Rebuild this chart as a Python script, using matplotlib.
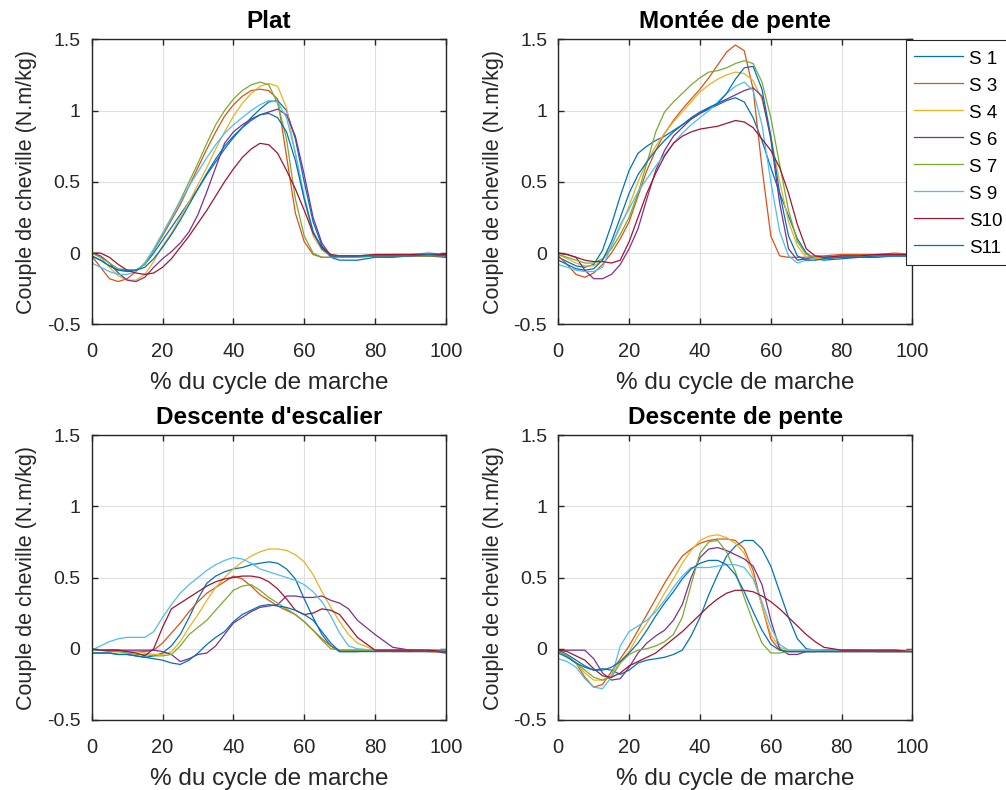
import matplotlib
matplotlib.use("Agg")
import matplotlib.pyplot as plt
from matplotlib.ticker import FuncFormatter

plt.rcParams['font.family'] = ['Liberation Sans', 'DejaVu Sans']
plt.rcParams['axes.unicode_minus'] = False

x = [0, 2.5, 5, 7.5, 10, 12.5, 15, 17.5, 20, 22.5, 25, 27.5, 30, 32.5, 35, 37.5, 40,
     42.5, 45, 47.5, 50, 52.5, 55, 57.5, 60, 62.5, 65, 67.5, 70, 72.5, 75, 80, 85, 90, 95, 100]

subjects = ["S 1", "S 3", "S 4", "S 6", "S 7", "S 9", "S10", "S11"]
colors = ["#0072BD", "#D95319", "#EDB120", "#7E2F8E", "#77AC30", "#4DBEEE", "#A2142F", "#0072BD"]
titles = ["Plat", "Montée de pente", "Descente d'escalier", "Descente de pente"]

# ---- Plat ----
plat_s1 = [-0.02, -0.05, -0.09, -0.12, -0.13, -0.12, -0.08, 0.0, 0.09, 0.18, 0.27, 0.36, 0.45, 0.55, 0.64, 0.73, 0.81, 0.88, 0.95, 1.01, 1.06, 1.07, 1.0, 0.8, 0.5, 0.22, 0.05, -0.03, -0.05, -0.05, -0.05, -0.03, -0.03, -0.02, -0.02, -0.02]
plat_s3 = [-0.02, -0.1, -0.18, -0.2, -0.18, -0.13, -0.07, 0.02, 0.12, 0.23, 0.34, 0.47, 0.6, 0.73, 0.85, 0.96, 1.04, 1.1, 1.14, 1.15, 1.14, 1.08, 0.68, 0.28, 0.08, -0.01, -0.03, -0.03, -0.03, -0.03, -0.02, -0.02, -0.01, -0.01, 0.0, -0.01]
plat_s4 = [0.0, -0.03, -0.1, -0.16, -0.19, -0.19, -0.15, -0.06, 0.05, 0.14, 0.25, 0.36, 0.48, 0.6, 0.73, 0.85, 0.96, 1.05, 1.12, 1.17, 1.19, 1.17, 1.02, 0.7, 0.38, 0.12, 0.02, -0.02, -0.03, -0.03, -0.03, -0.02, -0.02, -0.02, -0.02, -0.02]
plat_s6 = [0.0, -0.02, -0.07, -0.14, -0.19, -0.2, -0.17, -0.1, -0.04, 0.01, 0.07, 0.15, 0.27, 0.43, 0.6, 0.77, 0.85, 0.9, 0.94, 0.97, 0.99, 1.01, 0.97, 0.82, 0.55, 0.25, 0.07, -0.02, -0.03, -0.02, -0.02, -0.02, -0.02, -0.02, -0.02, -0.03]
plat_s7 = [0.0, -0.03, -0.07, -0.11, -0.12, -0.12, -0.08, 0.02, 0.13, 0.25, 0.37, 0.5, 0.63, 0.77, 0.9, 1.0, 1.08, 1.14, 1.18, 1.2, 1.18, 1.05, 0.8, 0.38, 0.12, 0.0, -0.03, -0.03, -0.03, -0.03, -0.03, -0.02, -0.02, -0.02, -0.02, -0.02]
plat_s9 = [-0.07, -0.1, -0.13, -0.15, -0.15, -0.13, -0.07, 0.03, 0.14, 0.25, 0.36, 0.47, 0.57, 0.67, 0.76, 0.84, 0.9, 0.95, 1.0, 1.04, 1.07, 1.06, 0.95, 0.7, 0.4, 0.15, 0.03, -0.01, -0.02, -0.02, -0.02, -0.01, -0.01, -0.01, -0.01, -0.02]
plat_s10 = [0.0, 0.0, -0.03, -0.08, -0.12, -0.14, -0.15, -0.14, -0.1, -0.04, 0.04, 0.12, 0.21, 0.3, 0.4, 0.5, 0.59, 0.67, 0.73, 0.77, 0.76, 0.7, 0.58, 0.45, 0.3, 0.14, 0.04, -0.01, -0.02, -0.02, -0.02, -0.01, -0.01, -0.01, -0.01, -0.01]
plat_s11 = [-0.02, -0.05, -0.09, -0.12, -0.12, -0.12, -0.1, -0.04, 0.04, 0.13, 0.23, 0.34, 0.45, 0.56, 0.66, 0.75, 0.82, 0.88, 0.93, 0.97, 0.98, 0.95, 0.85, 0.65, 0.38, 0.15, 0.03, -0.02, -0.02, -0.02, -0.02, -0.02, -0.02, -0.02, -0.01, -0.02]

# ---- Montée de pente ----
mont_s1 = [-0.03, -0.06, -0.09, -0.1, -0.08, 0.02, 0.2, 0.4, 0.58, 0.7, 0.75, 0.79, 0.82, 0.86, 0.9, 0.94, 0.98, 1.01, 1.04, 1.07, 1.09, 1.06, 0.95, 0.79, 0.6, 0.42, 0.26, 0.1, 0.0, -0.04, -0.05, -0.04, -0.03, -0.03, -0.02, -0.02]
mont_s3 = [-0.02, -0.08, -0.15, -0.17, -0.14, -0.08, 0.0, 0.1, 0.22, 0.4, 0.58, 0.72, 0.84, 0.93, 1.01, 1.08, 1.15, 1.23, 1.32, 1.41, 1.46, 1.42, 1.15, 0.6, 0.12, -0.02, -0.03, -0.03, -0.03, -0.02, -0.02, -0.01, -0.01, -0.01, 0.0, -0.01]
mont_s4 = [-0.01, -0.04, -0.07, -0.09, -0.09, -0.05, 0.05, 0.18, 0.33, 0.5, 0.64, 0.75, 0.84, 0.92, 0.99, 1.06, 1.13, 1.18, 1.22, 1.25, 1.27, 1.26, 1.21, 1.08, 0.82, 0.5, 0.22, 0.05, -0.03, -0.04, -0.04, -0.03, -0.02, -0.02, -0.01, -0.01]
mont_s6 = [0.0, -0.01, -0.03, -0.12, -0.18, -0.18, -0.15, -0.08, 0.03, 0.17, 0.38, 0.58, 0.72, 0.82, 0.88, 0.94, 0.98, 1.02, 1.05, 1.08, 1.11, 1.14, 1.16, 1.1, 0.8, 0.35, 0.03, -0.05, -0.04, -0.03, -0.03, -0.02, -0.02, -0.02, -0.02, -0.02]
mont_s7 = [-0.01, -0.03, -0.05, -0.07, -0.07, -0.04, 0.03, 0.13, 0.25, 0.42, 0.63, 0.85, 0.99, 1.06, 1.12, 1.18, 1.23, 1.27, 1.28, 1.3, 1.33, 1.35, 1.33, 1.2, 0.95, 0.62, 0.3, 0.08, -0.01, -0.03, -0.03, -0.02, -0.02, -0.02, -0.01, -0.01]
mont_s9 = [-0.08, -0.1, -0.12, -0.13, -0.13, -0.1, 0.05, 0.2, 0.31, 0.43, 0.52, 0.61, 0.69, 0.77, 0.84, 0.9, 0.95, 1.0, 1.06, 1.12, 1.17, 1.2, 1.14, 0.9, 0.5, 0.15, -0.02, -0.07, -0.05, -0.03, -0.03, -0.02, -0.02, -0.02, -0.02, -0.02]
mont_s10 = [0.0, -0.01, -0.03, -0.05, -0.06, -0.06, -0.07, -0.05, 0.08, 0.25, 0.42, 0.56, 0.68, 0.77, 0.82, 0.85, 0.87, 0.88, 0.89, 0.91, 0.93, 0.92, 0.88, 0.8, 0.72, 0.6, 0.42, 0.2, 0.03, -0.02, -0.03, -0.02, -0.02, -0.01, -0.01, -0.01]
mont_s11 = [-0.05, -0.08, -0.11, -0.12, -0.11, -0.05, 0.08, 0.25, 0.42, 0.55, 0.64, 0.72, 0.79, 0.85, 0.9, 0.95, 0.99, 1.02, 1.05, 1.12, 1.22, 1.3, 1.31, 1.15, 0.82, 0.42, 0.12, -0.02, -0.05, -0.05, -0.04, -0.03, -0.03, -0.02, -0.02, -0.02]

# ---- Descente d'escalier ----
esc_s1 = [-0.03, -0.03, -0.03, -0.04, -0.04, -0.05, -0.06, -0.05, -0.03, 0.02, 0.1, 0.22, 0.35, 0.46, 0.51, 0.54, 0.56, 0.57, 0.59, 0.6, 0.61, 0.6, 0.56, 0.49, 0.35, 0.22, 0.1, 0.02, -0.02, -0.02, -0.02, -0.01, -0.01, -0.01, -0.02, -0.02]
esc_s3 = [-0.01, -0.01, -0.01, -0.01, -0.02, -0.02, -0.02, -0.01, 0.04, 0.11, 0.18, 0.26, 0.33, 0.39, 0.43, 0.47, 0.51, 0.49, 0.44, 0.38, 0.34, 0.3, 0.27, 0.24, 0.19, 0.13, 0.07, 0.02, -0.01, -0.01, -0.01, -0.01, -0.01, -0.01, -0.01, -0.01]
esc_s4 = [-0.01, -0.01, -0.02, -0.02, -0.02, -0.02, -0.03, -0.04, -0.04, -0.02, 0.05, 0.15, 0.24, 0.34, 0.43, 0.5, 0.56, 0.61, 0.65, 0.68, 0.7, 0.7, 0.69, 0.66, 0.61, 0.52, 0.4, 0.29, 0.19, 0.1, 0.04, -0.01, -0.02, -0.02, -0.02, -0.03]
esc_s6 = [-0.01, -0.01, -0.01, -0.01, -0.01, -0.01, -0.01, -0.01, -0.02, -0.04, -0.09, -0.07, -0.04, -0.03, 0.02, 0.1, 0.18, 0.22, 0.26, 0.29, 0.3, 0.31, 0.37, 0.37, 0.36, 0.36, 0.37, 0.34, 0.32, 0.28, 0.2, 0.1, 0.01, -0.01, -0.01, -0.03]
esc_s7 = [-0.01, -0.01, -0.02, -0.02, -0.03, -0.04, -0.04, -0.05, -0.05, -0.04, 0.02, 0.1, 0.15, 0.2, 0.27, 0.34, 0.41, 0.44, 0.45, 0.41, 0.36, 0.32, 0.28, 0.24, 0.19, 0.13, 0.06, 0.0, -0.01, -0.01, -0.01, -0.01, -0.01, -0.01, -0.01, -0.01]
esc_s9 = [-0.01, 0.02, 0.05, 0.07, 0.08, 0.08, 0.08, 0.12, 0.22, 0.31, 0.39, 0.45, 0.5, 0.55, 0.59, 0.62, 0.64, 0.63, 0.6, 0.56, 0.54, 0.52, 0.5, 0.48, 0.45, 0.4, 0.33, 0.23, 0.11, 0.02, 0.0, -0.01, -0.01, -0.02, -0.01, -0.01]
esc_s10 = [0.0, -0.01, -0.01, -0.01, -0.02, -0.03, -0.05, 0.0, 0.15, 0.28, 0.32, 0.36, 0.4, 0.44, 0.47, 0.49, 0.5, 0.51, 0.51, 0.5, 0.47, 0.42, 0.35, 0.27, 0.24, 0.25, 0.28, 0.27, 0.24, 0.16, 0.08, -0.01, -0.01, -0.01, -0.01, -0.02]
esc_s11 = [-0.03, -0.03, -0.03, -0.04, -0.04, -0.05, -0.06, -0.07, -0.08, -0.1, -0.11, -0.08, -0.03, 0.03, 0.08, 0.12, 0.19, 0.24, 0.27, 0.3, 0.31, 0.3, 0.29, 0.27, 0.24, 0.2, 0.12, 0.04, -0.02, -0.02, -0.02, -0.02, -0.02, -0.02, -0.02, -0.02]

# ---- Descente de pente ----
desc_s1 = [-0.01, -0.04, -0.08, -0.12, -0.15, -0.14, -0.15, -0.18, -0.15, -0.1, -0.08, -0.07, -0.06, -0.04, -0.01, 0.09, 0.22, 0.38, 0.52, 0.65, 0.72, 0.76, 0.76, 0.7, 0.58, 0.4, 0.22, 0.07, 0.0, -0.01, -0.01, -0.01, -0.01, -0.01, -0.01, -0.02]
desc_s3 = [-0.02, -0.05, -0.1, -0.2, -0.27, -0.25, -0.16, -0.07, 0.02, 0.13, 0.24, 0.35, 0.46, 0.56, 0.65, 0.7, 0.74, 0.76, 0.77, 0.77, 0.76, 0.7, 0.55, 0.3, 0.07, -0.01, -0.02, -0.02, -0.02, -0.02, -0.02, -0.02, -0.02, -0.02, -0.02, -0.02]
desc_s4 = [-0.02, -0.05, -0.1, -0.17, -0.22, -0.22, -0.18, -0.09, -0.02, 0.09, 0.18, 0.28, 0.39, 0.49, 0.6, 0.69, 0.76, 0.79, 0.8, 0.78, 0.74, 0.67, 0.51, 0.3, 0.1, 0.01, -0.01, -0.01, -0.01, -0.01, -0.01, -0.01, -0.01, -0.01, -0.01, -0.01]
desc_s6 = [-0.01, -0.01, -0.01, -0.01, -0.07, -0.17, -0.22, -0.21, -0.13, -0.03, 0.04, 0.09, 0.13, 0.2, 0.31, 0.5, 0.64, 0.7, 0.71, 0.69, 0.66, 0.63, 0.58, 0.45, 0.2, 0.0, -0.04, -0.04, -0.02, -0.02, -0.01, -0.01, -0.01, -0.02, -0.02, -0.02]
desc_s7 = [-0.02, -0.05, -0.1, -0.15, -0.2, -0.22, -0.2, -0.1, -0.04, -0.01, 0.0, 0.02, 0.05, 0.1, 0.22, 0.45, 0.67, 0.75, 0.76, 0.68, 0.54, 0.36, 0.19, 0.04, -0.03, -0.03, -0.02, -0.02, -0.02, -0.02, -0.02, -0.02, -0.02, -0.02, -0.02, -0.02]
desc_s9 = [-0.07, -0.09, -0.13, -0.21, -0.27, -0.28, -0.2, 0.02, 0.12, 0.16, 0.2, 0.26, 0.34, 0.43, 0.51, 0.57, 0.57, 0.57, 0.58, 0.59, 0.59, 0.57, 0.49, 0.33, 0.15, 0.03, -0.01, -0.01, -0.01, -0.01, -0.01, -0.01, -0.01, -0.01, -0.01, -0.02]
desc_s10 = [-0.01, -0.02, -0.05, -0.08, -0.14, -0.19, -0.2, -0.17, -0.12, -0.09, -0.06, -0.03, 0.02, 0.07, 0.12, 0.18, 0.24, 0.3, 0.35, 0.39, 0.41, 0.41, 0.4, 0.37, 0.33, 0.28, 0.22, 0.16, 0.1, 0.05, 0.01, -0.01, -0.01, -0.01, -0.01, -0.02]
desc_s11 = [-0.03, -0.06, -0.1, -0.13, -0.15, -0.15, -0.13, -0.09, -0.03, 0.04, 0.13, 0.23, 0.32, 0.4, 0.49, 0.56, 0.6, 0.62, 0.62, 0.59, 0.52, 0.4, 0.26, 0.13, 0.03, -0.01, -0.02, -0.02, -0.02, -0.02, -0.02, -0.02, -0.02, -0.02, -0.02, -0.02]

panels = [
    [plat_s1, plat_s3, plat_s4, plat_s6, plat_s7, plat_s9, plat_s10, plat_s11],
    [mont_s1, mont_s3, mont_s4, mont_s6, mont_s7, mont_s9, mont_s10, mont_s11],
    [esc_s1, esc_s3, esc_s4, esc_s6, esc_s7, esc_s9, esc_s10, esc_s11],
    [desc_s1, desc_s3, desc_s4, desc_s6, desc_s7, desc_s9, desc_s10, desc_s11],
]

W, H = 1006, 790
fig = plt.figure(figsize=(W / 100, H / 100), dpi=100)

ax_left = [91.7, 558.3]
ax_top = [39.3, 435.0]
ax_w = 354.2
ax_h = 285.0

def fmt(v, pos):
    return "%g" % round(v, 2)

axes = []
for i in range(4):
    r, c = divmod(i, 2)
    l = ax_left[c] / W
    b = 1 - (ax_top[r] + ax_h) / H
    ax = fig.add_axes([l, b, ax_w / W, ax_h / H])
    lines = []
    for ser, col, lab in zip(panels[i], colors, subjects):
        ln, = ax.plot(x, ser, color=col, lw=0.9, label=lab)
        lines.append(ln)
    ax.set_xlim(0, 100)
    ax.set_ylim(-0.5, 1.5)
    ax.set_xticks([0, 20, 40, 60, 80, 100])
    ax.set_yticks([-0.5, 0, 0.5, 1, 1.5])
    ax.yaxis.set_major_formatter(FuncFormatter(fmt))
    ax.grid(True, color='#DFDFDF', lw=0.8)
    ax.set_axisbelow(True)
    for sp in ax.spines.values():
        sp.set_color('#262626')
        sp.set_linewidth(1.0)
    ax.tick_params(direction='in', length=4, width=1.0, colors='#262626',
                   labelsize=14, top=True, right=True)
    ax.tick_params(axis='x', pad=13, labelsize=14.5)
    ax.tick_params(axis='y', pad=8)
    ax.set_title(titles[i], fontsize=17.5, fontweight='bold', color='black', pad=8)
    ax.set_xlabel('% du cycle de marche', fontsize=17.5, color='#262626', labelpad=8)
    ax.set_ylabel('Couple de cheville (N.m/kg)', fontsize=15.5, color='#262626', labelpad=7)
    axes.append((ax, lines))

leg_lines = axes[1][1]
leg = fig.legend(leg_lines, subjects, loc='upper left',
                 bbox_to_anchor=(906 / W, 1 - 40 / H), bbox_transform=fig.transFigure,
                 fontsize=13.5, frameon=True, fancybox=False, framealpha=1,
                 edgecolor='#262626', handlelength=2.6, handletextpad=0.35,
                 handleheight=1.2, labelspacing=0.38, borderpad=0.42, borderaxespad=0)
leg.get_frame().set_linewidth(0.8)

fig.savefig('out.png', dpi=100)
